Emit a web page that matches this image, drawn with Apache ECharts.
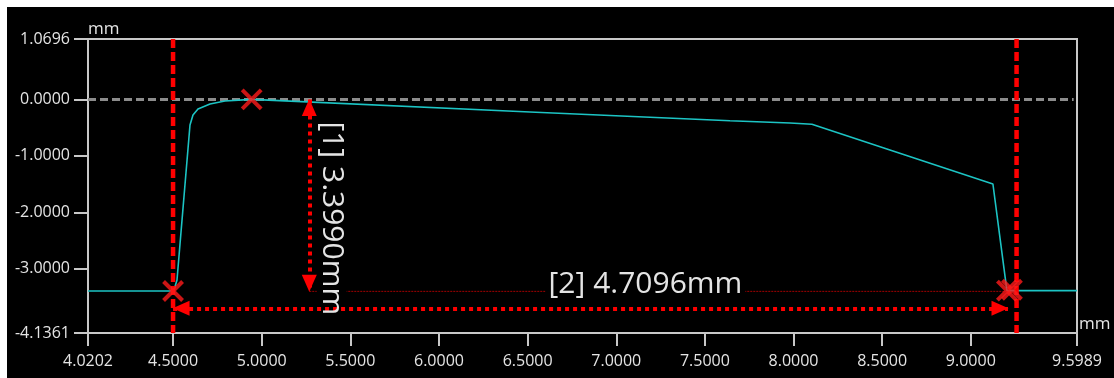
<!DOCTYPE html>
<html>
<head>
<meta charset="utf-8">
<script src="https://cdn.jsdelivr.net/npm/echarts@6/dist/echarts.min.js"></script>
<style>
html,body{margin:0;padding:0;background:#fff;width:1114px;height:378px;overflow:hidden;}
#c{position:absolute;left:7px;top:7px;width:1107px;height:371px;background:#000;}
</style>
</head>
<body>
<div id="c"></div>
<script>
// ---- data ----
const xMin = 4.0202, xMax = 9.5989;
const yMin = -4.1361, yMax = 1.0696;
const xTicks = [4.0202, 4.5, 5.0, 5.5, 6.0, 6.5, 7.0, 7.5, 8.0, 8.5, 9.0, 9.5989];
const yTicks = [-4.1361, -3.0, -2.0, -1.0, 0.0, 1.0696];
const profileX = [4.0202, 4.4827, 4.5053, 4.5222, 4.5955, 4.6124, 4.6406, 4.7083, 4.7929, 4.9435, 6.5132, 7.6412, 7.9800, 8.1037, 9.1246, 9.2035, 9.5989];
const profileY = [-3.392, -3.392, -3.375, -3.197, -0.453, -0.276, -0.170, -0.081, -0.028, 0.000, -0.223, -0.377, -0.418, -0.441, -1.498, -3.385, -3.385];
const cursorX = [4.5, 9.258];
const markerX = [4.9435, 4.5, 9.2035, 9.232];
const markerY = [0.0, -3.392, -3.385, -3.37];
const dim1 = [5.2684, 0.0, -3.399];        // x, yFrom, yTo
const dim2 = [-3.6985, 4.5, 9.2096];       // y, xFrom, xTo
const labelText = ['[1] 3.3990mm', '[2] 4.7096mm'];
const labelX = [5.3947, 7.1646];
const labelY = [-2.105, -3.275];

// ---- chart ----
const chart = echarts.init(document.getElementById('c'));
const txt = '#e4e4e4', axisCol = '#c8c8c8', FONT = 'Open Sans';

function labelLayer(withBg, z) {
  return {
    type: 'scatter', silent: true, z: z, symbolSize: 1, itemStyle: { color: '#000', opacity: 1 },
    data: labelText.map((t, i) => ({ value: [labelX[i], labelY[i]], name: t,
      label: { rotate: i === 0 ? -90 : 0 } })),
    label: {
      show: true, position: 'inside', formatter: p => p.name,
      color: withBg ? 'rgba(0,0,0,0)' : txt, fontFamily: FONT, fontSize: 30,
      backgroundColor: withBg ? '#000' : 'transparent', padding: [0, 3],
      align: 'center', verticalAlign: 'middle'
    }
  };
}

const series = [];
series.push({
  type: 'line', data: [[xMin, 0], [9.58, 0]], symbol: 'none', silent: true, z: 1,
  lineStyle: { color: '#8c8c8c', width: 3, type: [8, 4] }
});
series.push({
  type: 'line', data: profileX.map((x, i) => [x, profileY[i]]), symbol: 'none', silent: true, z: 2,
  lineStyle: { color: '#1cc4c4', width: 1.6 }
});
series.push({
  type: 'line', data: [[dim1[0], dim1[2]], [dim2[2], dim1[2]]], symbol: 'none', silent: true, z: 2,
  lineStyle: { color: '#a00000', width: 1, type: [2, 1] }
});
series.push(labelLayer(true, 3));
cursorX.forEach(x => series.push({
  type: 'line', data: [[x, yMax], [x, yMin]], symbol: 'none', silent: true, z: 4,
  lineStyle: { color: '#ff0000', width: 4.5, type: [9, 4] }
}));
series.push({
  type: 'line', data: [], symbol: 'none', silent: true, z: 5,
  markLine: {
    silent: true, animation: false, symbol: ['triangle', 'triangle'], symbolSize: [15, 17],
    symbolOffset: [[0, 8], [0, 8]],
    label: { show: false },
    lineStyle: { color: '#ff0000', width: 4, type: [4, 4], opacity: 1 },
    emphasis: { disabled: true },
    data: [
      [{ coord: [dim1[0], dim1[1]] }, { coord: [dim1[0], dim1[2]] }],
      [{ coord: [dim2[1], dim2[0]] }, { coord: [dim2[2], dim2[0]] }]
    ]
  }
});
series.push({
  type: 'scatter', data: markerX.map((x, i) => [x, markerY[i]]), silent: true, z: 6,
  symbol: 'path://M0,0L20,20M20,0L0,20', symbolSize: 19,
  itemStyle: { color: 'none', borderColor: '#ff1a1a', borderWidth: 4 }
});
series.push(labelLayer(false, 7));

chart.setOption({
  backgroundColor: '#000',
  animation: false,
  grid: { left: 81, top: 32, right: 37, bottom: 45, show: true, borderColor: axisCol, borderWidth: 2, backgroundColor: 'transparent' },
  xAxis: {
    type: 'value', min: xMin, max: xMax,
    name: 'mm', nameLocation: 'end', nameGap: 2,
    nameTextStyle: { color: txt, fontFamily: FONT, fontSize: 17, align: 'left', verticalAlign: 'bottom', padding: [0, 0, 0, 0] },
    axisLine: { show: true, onZero: false, lineStyle: { color: axisCol, width: 2 } },
    axisTick: { show: true, length: 13, customValues: xTicks, lineStyle: { color: axisCol, width: 2 } },
    axisLabel: { customValues: xTicks, formatter: v => v.toFixed(4), color: txt, fontFamily: FONT, fontSize: 16, margin: 20 },
    splitLine: { show: false }
  },
  yAxis: {
    type: 'value', min: yMin, max: yMax,
    name: 'mm', nameLocation: 'end', nameGap: 1,
    nameTextStyle: { color: txt, fontFamily: FONT, fontSize: 17, align: 'left', verticalAlign: 'bottom' },
    axisLine: { show: true, onZero: false, lineStyle: { color: axisCol, width: 2 } },
    axisTick: { show: true, length: 14, customValues: yTicks, lineStyle: { color: axisCol, width: 2 } },
    axisLabel: { customValues: yTicks, formatter: v => v.toFixed(4), color: txt, fontFamily: FONT, fontSize: 16, margin: 18 },
    splitLine: { show: false }
  },
  series: series
});
</script>
</body>
</html>
